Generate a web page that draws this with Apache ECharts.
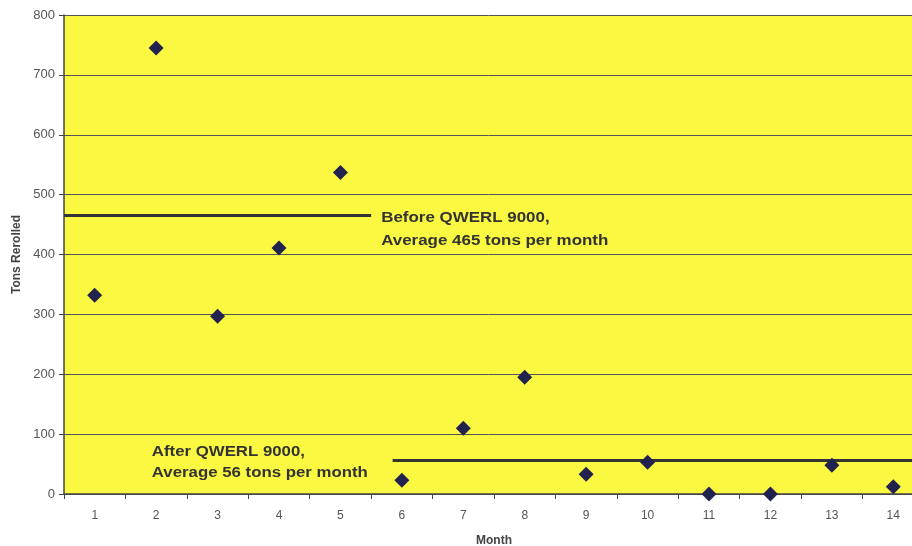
<!DOCTYPE html>
<html>
<head>
<meta charset="utf-8">
<script src="https://cdn.jsdelivr.net/npm/echarts@6/dist/echarts.min.js"></script>
<style>
  html, body { margin: 0; padding: 0; background: #ffffff; }
  #chart { width: 912px; height: 546px; }
</style>
</head>
<body>
<div id="chart"></div>
<script>
// Monthly tonnage rerolled, before and after the QWERL 9000 went in
const months = ['1', '2', '3', '4', '5', '6', '7', '8', '9', '10', '11', '12', '13', '14'];
const tonsRerolled = [332, 745, 297, 411, 537, 23, 110, 195, 33, 53, 0, 0, 48, 12];
const yTicks = [0, 100, 200, 300, 400, 500, 600, 700, 800];

// Period averages: [startMonth, endMonth, average]
const beforeAvg = [0.5, 5.5, 465];
const afterAvg = [5.85, 14.5, 56];
const beforeText = 'Before QWERL 9000,\nAverage 465 tons per month';
const afterText = 'After QWERL 9000,\nAverage 56 tons per month';

const chart = echarts.init(document.getElementById('chart'), null, { renderer: 'canvas' });

const fontFam = 'Arial';

chart.setOption({
  animation: false,
  backgroundColor: '#ffffff',
  grid: {
    left: 64, top: 15, width: 860, height: 479,
    containLabel: false,
    outerBoundsMode: 'none',
    show: true, backgroundColor: '#fbf842', borderWidth: 0
  },
  xAxis: [{
    type: 'category',
    data: months,
    boundaryGap: true,
    name: 'Month',
    nameLocation: 'middle',
    nameGap: 41,
    nameTextStyle: { fontFamily: fontFam, fontSize: 12, fontWeight: 'bold', color: '#444' },
    axisLine: { lineStyle: { color: '#444', width: 1.5 } },
    axisTick: { show: true, length: 5, alignWithLabel: false, lineStyle: { color: '#444' } },
    axisLabel: { fontFamily: fontFam, fontSize: 12, color: '#555', margin: 16 },
    splitLine: { show: false }
  }, {
    type: 'value',
    min: 0.5, max: 14.5,
    show: false
  }],
  yAxis: {
    type: 'value',
    min: yTicks[0], max: yTicks[yTicks.length - 1], interval: 100,
    name: 'Tons Rerolled',
    nameLocation: 'middle',
    nameGap: 41,
    nameRotate: 90,
    nameTextStyle: { fontFamily: fontFam, fontSize: 12, fontWeight: 'bold', color: '#444' },
    axisLine: { show: true, lineStyle: { color: '#444', width: 1.5 } },
    axisTick: { show: true, length: 5, lineStyle: { color: '#444' } },
    axisLabel: { fontFamily: fontFam, fontSize: 13, color: '#555', margin: 9 },
    splitLine: { show: true, lineStyle: { color: '#555', width: 1 } }
  },
  series: [{
    type: 'scatter',
    xAxisIndex: 0,
    data: tonsRerolled,
    symbol: 'diamond',
    symbolSize: 15,
    clip: false,
    itemStyle: { color: '#22224f', opacity: 1 },
    z: 5
  }, {
    type: 'line',
    xAxisIndex: 1,
    data: [[beforeAvg[0], beforeAvg[2]], [beforeAvg[1], beforeAvg[2]]],
    symbol: 'none',
    lineStyle: { color: '#333', width: 3 },
    z: 3
  }, {
    type: 'line',
    xAxisIndex: 1,
    data: [[afterAvg[0], afterAvg[2]], [afterAvg[1], afterAvg[2]]],
    symbol: 'none',
    lineStyle: { color: '#333', width: 3 },
    z: 3
  }]
});

// Annotation text, placed from the axis scales
const beforeEnd = chart.convertToPixel({ xAxisIndex: 1, yAxisIndex: 0 }, [beforeAvg[1], beforeAvg[2]]);
const afterAnchor = chart.convertToPixel({ xAxisIndex: 1, yAxisIndex: 0 }, [1.93, 100]);

chart.setOption({
  graphic: [{
    type: 'text',
    x: beforeEnd[0] + 10, y: beforeEnd[1] - 9,
    scaleX: 1.21,
    z: 10,
    style: {
      text: beforeText, lineHeight: 23,
      fontFamily: fontFam, fontSize: 14, fontWeight: 'bold', fill: '#333'
    }
  }, {
    type: 'text',
    x: afterAnchor[0], y: afterAnchor[1] + 8,
    scaleX: 1.2,
    z: 10,
    style: {
      text: afterText, lineHeight: 21,
      fontFamily: fontFam, fontSize: 14, fontWeight: 'bold', fill: '#333'
    }
  }]
});
</script>
</body>
</html>
